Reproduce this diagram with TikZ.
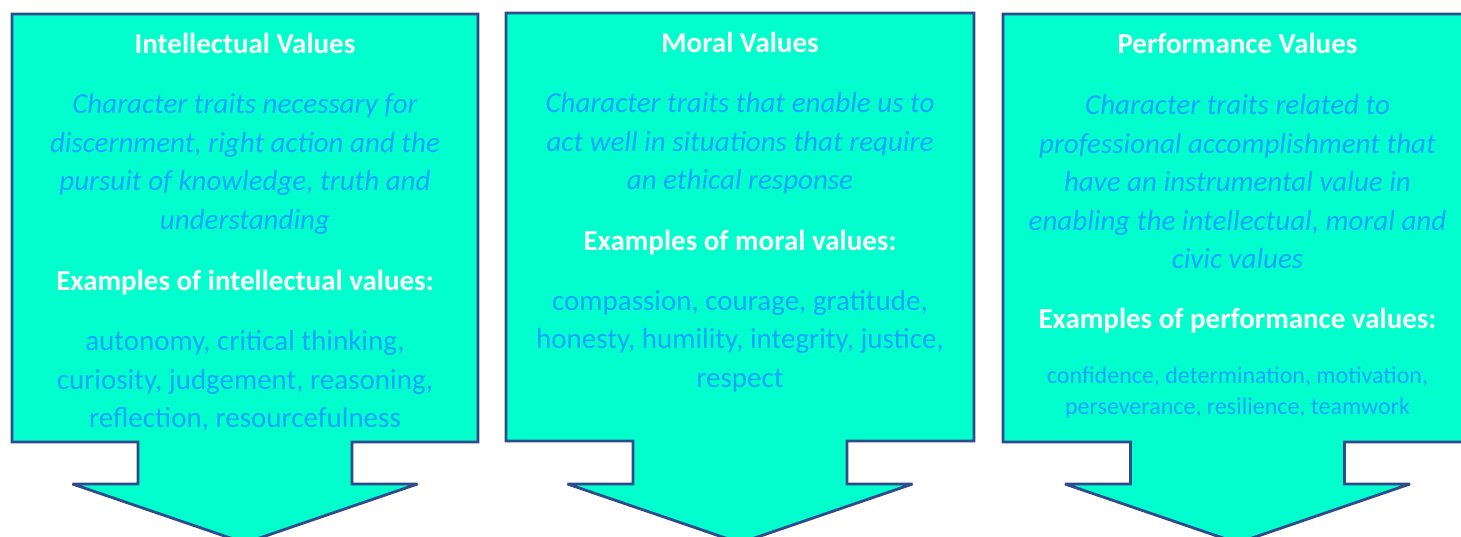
\documentclass[tikz,border=0pt]{standalone}
\usepackage{fontspec}
\setmainfont{Carlito}
\definecolor{calloutfill}{RGB}{0,255,204}
\definecolor{calloutline}{RGB}{47,75,140}
\definecolor{bodyblue}{RGB}{22,164,255}
\tikzset{
  callout/.style={fill=calloutfill, draw=calloutline, line width=2.8pt, line join=miter, miter limit=4},
  titletext/.style={text=white, font=\fontsize{29}{38.5}\selectfont\bfseries, align=center, inner sep=0pt},
  desctext/.style={text=bodyblue, font=\fontsize{29}{38.5}\selectfont\itshape, align=center, inner sep=0pt},
  listtext/.style={text=bodyblue, font=\fontsize{29}{38.5}\selectfont, align=center, inner sep=0pt},
  smalllist/.style={text=bodyblue, font=\fontsize{24}{31}\selectfont, align=center, inner sep=0pt}
}
% one down-pointing callout: #1 left, #2 right, #3 top, #4 box bottom
\newcommand{\downcallout}[4]{%
  \pgfmathsetmacro{\cx}{(#1+#2)/2}%
  \draw[callout] (#1,#3) -- (#2,#3) -- (#2,#4) -- (\cx+107,#4) -- (\cx+107,484)
    -- (\cx+172.5,484) -- (\cx,543) -- (\cx-172.5,484) -- (\cx-107,484)
    -- (\cx-107,#4) -- (#1,#4) -- cycle;}
\begin{document}
\begin{tikzpicture}[x=1pt,y=-1pt]
  \useasboundingbox (0,0) rectangle (1461,537);
  \fill[white] (0,0) rectangle (1461,537);
  \begin{scope}
    \clip (0,0) rectangle (1461,537);
    \downcallout{12}{478}{14}{442}
    \downcallout{506}{974}{13}{441}
    \downcallout{1003}{1472}{14}{442}
  \end{scope}

  % Intellectual values
  \node[titletext] (t1) at (245,43.5) {Intellectual Values};
  \node[desctext] (d1) at (245,164) {Character traits necessary for\\discernment, right action and the\\pursuit of knowledge, truth and\\understanding};
  \node[titletext] (h1) at (245,282.5) {Examples of intellectual values:};
  \node[listtext] (e1) at (245,381) {autonomy, critical thinking,\\curiosity, judgement, reasoning,\\reflection, resourcefulness};

  % Moral values
  \node[titletext] (t2) at (740,42.5) {Moral Values};
  \node[desctext] (d2) at (740,143.5) {Character traits that enable us to\\act well in situations that require\\an ethical response};
  \node[titletext] (h2) at (740,242.5) {Examples of moral values:};
  \node[listtext] (e2) at (740,341) {compassion, courage, gratitude,\\honesty, humility, integrity, justice,\\respect};

  % Performance values
  \node[titletext] (t3) at (1237.5,43.5) {Performance Values};
  \node[desctext] (d3) at (1237.5,182) {Character traits related to\\professional accomplishment that\\have an instrumental value in\\enabling the intellectual, moral and\\civic values};
  \node[titletext] (h3) at (1237.5,321) {Examples of performance values:};
  \node[smalllist] (e3) at (1237.5,392.5) {confidence, determination, motivation,\\perseverance, resilience, teamwork};
\end{tikzpicture}
\end{document}
